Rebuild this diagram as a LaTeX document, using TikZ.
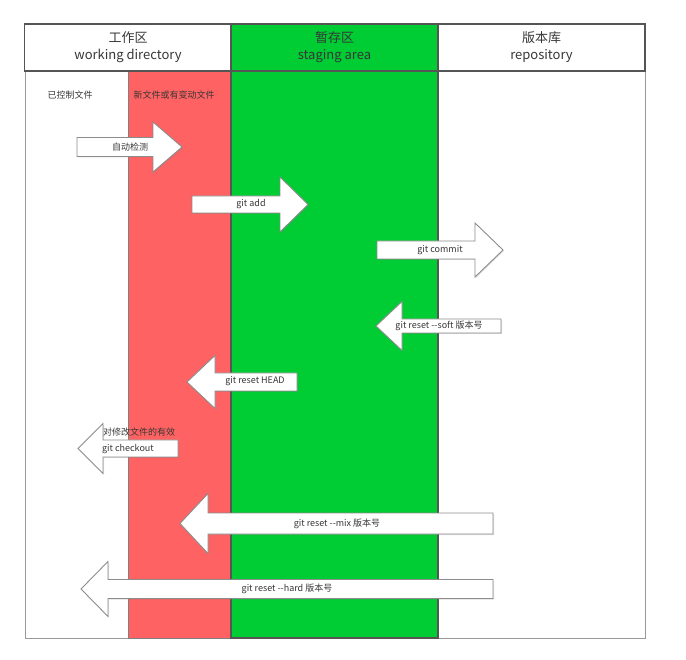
\documentclass[tikz,border=0pt]{standalone}
\usepackage{fontspec}
\setmainfont{Noto Sans CJK SC}
\usetikzlibrary{shadows}

\definecolor{stagegreen}{RGB}{0,204,51}
\definecolor{workred}{RGB}{255,98,98}
\definecolor{edgegray}{RGB}{85,85,85}
\definecolor{textgray}{RGB}{55,55,55}

% tip x, head base x, tail x, mid y, half body, half head
\newcommand{\blockarrow}[6]{%
  \path[blockarrow] (#3,{#4-#5}) -- (#2,{#4-#5}) -- (#2,{#4-#6}) -- (#1,#4)
    -- (#2,{#4+#6}) -- (#2,{#4+#5}) -- (#3,{#4+#5}) -- cycle;}

\begin{document}
\begin{tikzpicture}[x=1pt, y=-1pt,
    headcell/.style={draw=edgegray, line width=1.2pt, minimum width=207pt, minimum height=47pt, inner sep=0pt, align=center, text=textgray, font=\fontsize{13}{17}\selectfont},
    blockarrow/.style={draw=black!45, line width=0.9pt, fill=white, drop shadow={opacity=0.25, shadow xshift=1pt, shadow yshift=-1pt}},
    lbl/.style={inner sep=0pt, text=textgray, font=\fontsize{9}{10}\selectfont}]
  \useasboundingbox (0,0) rectangle (686,660);

  % body columns
  \draw[black!40, line width=1pt] (25,71) -- (25,638) -- (645,638) -- (645,71);
  \draw[fill=workred, draw=black!50, line width=1pt] (128,71) rectangle (231,638);
  \draw[fill=stagegreen, draw=edgegray, line width=1.2pt] (231,71) rectangle (438,638);

  % header
  \node[headcell, fill=white] (work) at (128,47.5) {工作区\\working directory};
  \node[headcell, fill=stagegreen] (stage) at (334.5,47.5) {暂存区\\staging area};
  \node[headcell, fill=white] (repo) at (541.5,47.5) {版本库\\repository};

  \node[lbl] (tracked) at (70,95) {已控制文件};
  \node[lbl] (changed) at (174,95) {新文件或有变动文件};

  % Arrows
  \blockarrow{182}{153}{77}{147}{9.5}{25}
  \blockarrow{308}{280}{192}{204.5}{8.5}{27.5}
  \blockarrow{503}{475}{377}{250}{9}{27}
  \blockarrow{376}{402}{501}{326}{7}{24.5}
  \blockarrow{187}{215}{297}{382}{9}{26.5}
  \blockarrow{78}{103}{178}{448.5}{8.5}{25}
  \blockarrow{180}{208}{493}{523.5}{10.5}{30}
  \blockarrow{81}{108}{493}{589}{9.5}{27.5}

  \node[lbl] (detect) at (130,147) {自动检测};
  \node[lbl] (add) at (251,204.5) {git add};
  \node[lbl] (commit) at (440,250) {git commit};
  \node[lbl] (soft) at (439,326) {git reset -{}-soft 版本号};
  \node[lbl] (head) at (255,381.5) {git reset HEAD};
  \node[lbl, anchor=west] (modified) at (103,432) {对修改文件的有效};
  \node[lbl] (checkout) at (128,449) {git checkout};
  \node[lbl] (mix) at (337,523.5) {git reset -{}-mix 版本号};
  \node[lbl] (hard) at (287,589) {git reset -{}-hard 版本号};
\end{tikzpicture}
\end{document}
